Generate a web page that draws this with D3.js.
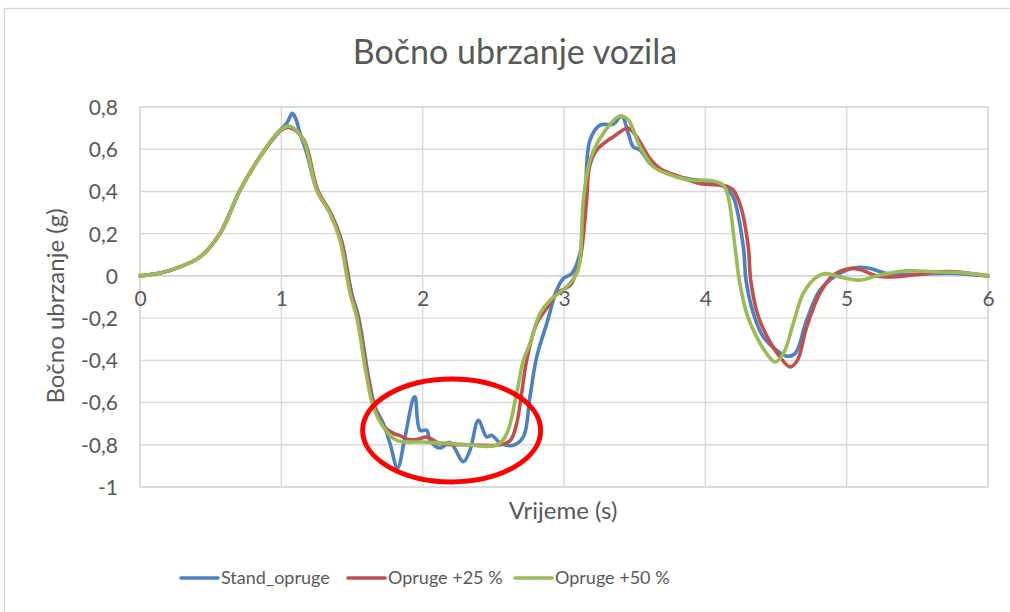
<!DOCTYPE html>
<html>
<head>
<meta charset="utf-8">
<script src="https://cdn.jsdelivr.net/npm/d3@7"></script>
<style>
  html, body { margin: 0; padding: 0; background: #fff; }
  svg { display: block; }
  text { font-family: Lato, "Open Sans", sans-serif; fill: #595959; }
</style>
</head>
<body>
<svg id="chart" width="1010" height="612"></svg>
<script>
// Bočno ubrzanje vozila — lateral acceleration (g) over time (s)
const chartTitle = "Bočno ubrzanje vozila";
const xTitle = "Vrijeme (s)";
const yTitle = "Bočno ubrzanje (g)";
const xTicks = [0, 1, 2, 3, 4, 5, 6];
const yTicks = [0.8, 0.6, 0.4, 0.2, 0, -0.2, -0.4, -0.6, -0.8, -1];
const seriesNames = ["Stand_opruge", "Opruge +25 %", "Opruge +50 %"];
const seriesColors = ["#4F81BD", "#C0504D", "#9BBB59"];

// Stand_opruge
const standT = [0, 0.15, 0.283, 0.425, 0.566, 0.708, 0.849, 0.991, 1.04, 1.078, 1.105, 1.132, 1.18, 1.255, 1.35, 1.425, 1.498, 1.546, 1.617, 1.663, 1.722, 1.769, 1.822, 1.875, 1.934, 1.946, 1.981, 2.029, 2.052, 2.123, 2.193, 2.288, 2.335, 2.394, 2.453, 2.488, 2.547, 2.641, 2.712, 2.759, 2.807, 2.878, 2.948, 2.995, 3.054, 3.113, 3.149, 3.184, 3.255, 3.349, 3.408, 3.455, 3.49, 3.538, 3.608, 3.679, 3.821, 4.01, 4.127, 4.163, 4.2, 4.269, 4.288, 4.34, 4.41, 4.505, 4.576, 4.635, 4.717, 4.81, 4.93, 5.07, 5.166, 5.283, 5.47, 5.71, 6.0];
const standV = [0, 0.015, 0.043, 0.09, 0.201, 0.406, 0.564, 0.69, 0.725, 0.77, 0.74, 0.675, 0.58, 0.40, 0.296, 0.169, -0.083, -0.194, -0.479, -0.621, -0.70, -0.794, -0.91, -0.763, -0.58, -0.573, -0.731, -0.731, -0.779, -0.815, -0.789, -0.88, -0.826, -0.684, -0.763, -0.755, -0.791, -0.802, -0.763, -0.573, -0.384, -0.226, -0.068, -0.012, 0.011, 0.106, 0.359, 0.643, 0.714, 0.719, 0.757, 0.675, 0.611, 0.596, 0.533, 0.501, 0.469, 0.445, 0.425, 0.406, 0.37, 0.137, -0.02, -0.178, -0.289, -0.352, -0.38, -0.368, -0.21, -0.068, 0.003, 0.04, 0.035, 0.011, 0.008, 0.013, 0];

// Opruge +25 %
const plus25T = [0, 0.15, 0.283, 0.425, 0.566, 0.708, 0.849, 0.991, 1.061, 1.16, 1.255, 1.35, 1.423, 1.494, 1.541, 1.612, 1.659, 1.722, 1.79, 1.84, 1.9, 1.96, 2.029, 2.123, 2.3, 2.55, 2.62, 2.665, 2.7, 2.736, 2.807, 2.901, 2.948, 3.043, 3.066, 3.113, 3.16, 3.18, 3.231, 3.349, 3.455, 3.514, 3.608, 3.679, 3.821, 3.962, 4.151, 4.198, 4.25, 4.304, 4.321, 4.368, 4.438, 4.528, 4.599, 4.651, 4.717, 4.81, 4.906, 5.024, 5.094, 5.212, 5.33, 5.52, 5.71, 6.0];
const plus25V = [0, 0.015, 0.043, 0.09, 0.201, 0.406, 0.564, 0.686, 0.702, 0.643, 0.41, 0.296, 0.169, -0.083, -0.194, -0.479, -0.621, -0.71, -0.745, -0.757, -0.775, -0.775, -0.763, -0.794, -0.80, -0.80, -0.78, -0.70, -0.557, -0.40, -0.226, -0.131, -0.083, -0.045, -0.02, 0.074, 0.359, 0.517, 0.596, 0.659, 0.699, 0.659, 0.556, 0.509, 0.469, 0.438, 0.425, 0.406, 0.33, 0.137, -0.02, -0.178, -0.289, -0.384, -0.431, -0.40, -0.242, -0.083, 0.003, 0.035, 0.03, 0, -0.005, 0.008, 0.02, 0];

// Opruge +50 %
const plus50T = [0, 0.15, 0.283, 0.425, 0.566, 0.708, 0.849, 0.991, 1.061, 1.156, 1.25, 1.344, 1.415, 1.486, 1.533, 1.604, 1.651, 1.722, 1.816, 2.005, 2.288, 2.524, 2.595, 2.665, 2.712, 2.76, 2.83, 2.901, 3.019, 3.09, 3.113, 3.137, 3.184, 3.278, 3.396, 3.455, 3.538, 3.632, 3.727, 3.892, 4.057, 4.127, 4.16, 4.21, 4.24, 4.293, 4.363, 4.434, 4.493, 4.552, 4.622, 4.693, 4.788, 4.859, 4.95, 5.094, 5.236, 5.425, 5.61, 5.85, 6.0];
const plus50V = [0, 0.015, 0.043, 0.09, 0.201, 0.406, 0.564, 0.69, 0.709, 0.643, 0.406, 0.296, 0.169, -0.083, -0.194, -0.479, -0.621, -0.716, -0.779, -0.787, -0.798, -0.802, -0.747, -0.557, -0.40, -0.32, -0.178, -0.115, -0.052, 0.011, 0.074, 0.359, 0.548, 0.675, 0.757, 0.738, 0.611, 0.517, 0.485, 0.454, 0.45, 0.43, 0.38, 0.137, -0.02, -0.178, -0.289, -0.368, -0.408, -0.368, -0.226, -0.083, -0.005, 0.011, -0.005, -0.02, 0.004, 0.024, 0.02, 0.013, 0];

const seriesT = [standT, plus25T, plus50T];
const seriesV = [standV, plus25V, plus50V];

const svg = d3.select("#chart");
const plot = { left: 140, right: 988, top: 107, bottom: 487 };

const x = d3.scaleLinear().domain([0, 6]).range([plot.left, plot.right]);
const y = d3.scaleLinear().domain([-1, 0.8]).range([plot.bottom, plot.top]);

// outer chart frame
svg.append("rect")
  .attr("x", 4.5).attr("y", 8.5).attr("width", 1040).attr("height", 640)
  .attr("fill", "#fff").attr("stroke", "#d9d9d9").attr("stroke-width", 1.3);

// gridlines
const grid = svg.append("g");
grid.selectAll(".hg").data(yTicks).join("line")
  .attr("x1", plot.left).attr("x2", plot.right)
  .attr("y1", d => y(d)).attr("y2", d => y(d))
  .attr("stroke", d => d === 0 ? "#bfbfbf" : "#d9d9d9")
  .attr("stroke-width", 1.4);
grid.selectAll(".vg").data(xTicks).join("line")
  .attr("x1", d => x(d)).attr("x2", d => x(d))
  .attr("y1", plot.top).attr("y2", plot.bottom)
  .attr("stroke", "#d9d9d9").attr("stroke-width", 1.4);
svg.append("rect")
  .attr("x", plot.left).attr("y", plot.top)
  .attr("width", plot.right - plot.left).attr("height", plot.bottom - plot.top)
  .attr("fill", "none").attr("stroke", "#d9d9d9").attr("stroke-width", 1.4);

// y axis labels
const fmt = d => String(d).replace(".", ",");
const yAxis = d3.axisLeft(y).tickValues(yTicks).tickFormat(fmt).tickSize(0).tickPadding(0);
const gy = svg.append("g").attr("transform", `translate(${plot.left - 22},0)`).call(yAxis);
gy.select(".domain").remove();
gy.selectAll("text").style("font-size", "21px").attr("fill", "#595959")
  .style("font-family", "Lato, sans-serif").attr("dy", "0.35em");

// x axis labels sit below the zero line
const xAxis = d3.axisBottom(x).tickValues(xTicks).tickFormat(d => d).tickSize(0).tickPadding(0);
const gx = svg.append("g").attr("transform", `translate(0,${y(0) + 23})`).call(xAxis);
gx.select(".domain").remove();
gx.selectAll("text").style("font-size", "21px").attr("fill", "#595959")
  .style("font-family", "Lato, sans-serif").attr("dy", "0.35em").attr("y", 0);

// series lines
const line = d3.line().x(d => x(d[0])).y(d => y(d[1])).curve(d3.curveCatmullRom.alpha(0.5));
seriesNames.forEach((name, i) => {
  const pts = seriesT[i].map((t, k) => [t, seriesV[i][k]]);
  svg.append("path").datum(pts)
    .attr("d", line)
    .attr("fill", "none")
    .attr("stroke", seriesColors[i])
    .attr("stroke-width", 3.6)
    .attr("stroke-linejoin", "round")
    .attr("stroke-linecap", "round");
});

// highlight ellipse around the oscillation zone
svg.append("ellipse")
  .attr("cx", x(2.205)).attr("cy", y(-0.732))
  .attr("rx", 89).attr("ry", 51.5)
  .attr("fill", "none").attr("stroke", "#ff0000").attr("stroke-width", 5);

// titles
svg.append("text").attr("x", 515).attr("y", 64).attr("text-anchor", "middle")
  .style("font-size", "34px").text(chartTitle);
svg.append("text").attr("x", 563).attr("y", 519).attr("text-anchor", "middle")
  .style("font-size", "24px").text(xTitle);
svg.append("text").attr("transform", "translate(64,306) rotate(-90)").attr("text-anchor", "middle")
  .style("font-size", "24px").text(yTitle);

// legend
const legendX = [181, 348, 515];
const lg = svg.append("g");
seriesNames.forEach((name, i) => {
  lg.append("line").attr("x1", legendX[i]).attr("x2", legendX[i] + 37)
    .attr("y1", 578).attr("y2", 578)
    .attr("stroke", seriesColors[i]).attr("stroke-width", 3.6).attr("stroke-linecap", "round");
  lg.append("text").attr("x", legendX[i] + 40).attr("y", 578).attr("dy", "0.35em")
    .style("font-size", "18px").text(name);
});
</script>
</body>
</html>
